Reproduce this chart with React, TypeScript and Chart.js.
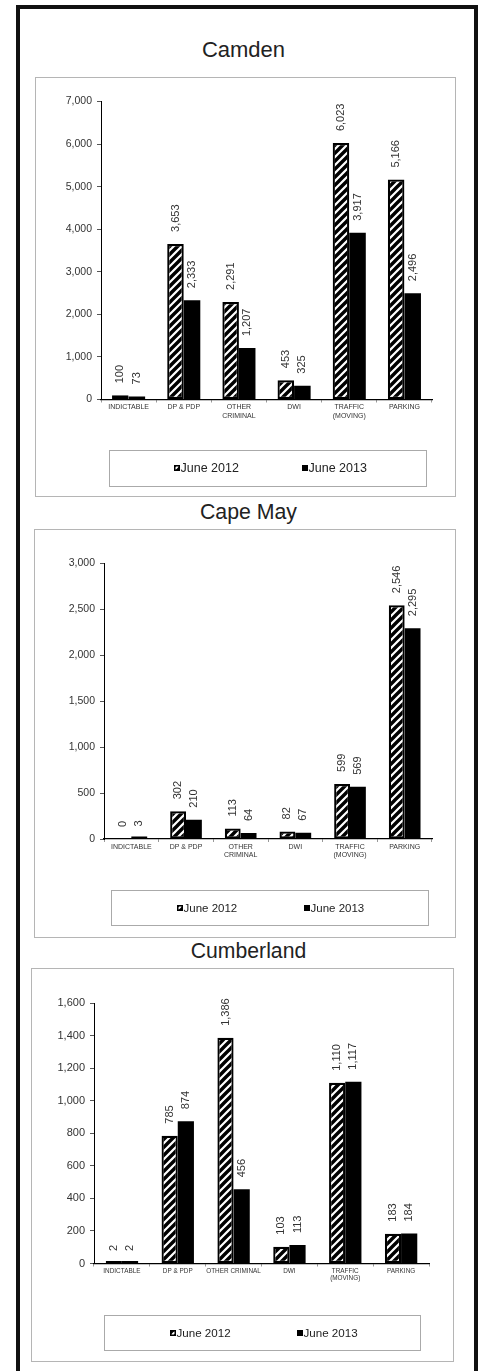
import React, { useEffect, useRef } from "react";
import { Chart, registerables } from "chart.js";

Chart.register(...registerables);

const FONT = "'Liberation Sans', Arial, Helvetica, sans-serif";
Chart.defaults.font.family = FONT;

// ---------- data ----------
const seriesNames = ["June 2012", "June 2013"];
const categoriesTwoLine = ["INDICTABLE", "DP & PDP", ["OTHER", "CRIMINAL"], "DWI", ["TRAFFIC", "(MOVING)"], "PARKING"];
const categoriesOneLine = ["INDICTABLE", "DP & PDP", "OTHER CRIMINAL", "DWI", ["TRAFFIC", "(MOVING)"], "PARKING"];

const camden2012 = [100, 3653, 2291, 453, 6023, 5166];
const camden2013 = [73, 2333, 1207, 325, 3917, 2496];
const capeMay2012 = [0, 302, 113, 82, 599, 2546];
const capeMay2013 = [3, 210, 64, 67, 569, 2295];
const cumberland2012 = [2, 785, 1386, 103, 1110, 183];
const cumberland2013 = [2, 874, 456, 113, 1117, 184];

const camdenAxis = [0, 7000, 1000]; // min, max, step
const capeMayAxis = [0, 3000, 500];
const cumberlandAxis = [0, 1600, 200];

// ---------- layout (page pixel coordinates) ----------
const panels = [
  {
    title: "Camden", titleSize: 22, titleCx: 243.5, titleCy: 49.5,
    box: { l: 35, t: 77, r: 455, b: 496 },
    axisX: 101, xRight: 432, yTopPx: 101.5, yZeroPx: 399.5,
    axis: camdenAxis, labels: categoriesTwoLine, a: camden2012, b: camden2013,
    catPct: 0.6, tickSize: 10.5, catSize: 7, valSize: 11,
    legend: { l: 109, t: 450, r: 426, b: 486, cy: 468, size: 12.5, items: [174, 302] },
  },
  {
    title: "Cape May", titleSize: 21.3, titleCx: 248.5, titleCy: 512.7,
    box: { l: 34, t: 529, r: 455, b: 937 },
    axisX: 104, xRight: 432, yTopPx: 563.5, yZeroPx: 839,
    axis: capeMayAxis, labels: categoriesTwoLine, a: capeMay2012, b: capeMay2013,
    catPct: 0.58, tickSize: 10.5, catSize: 7, valSize: 11,
    legend: { l: 111, t: 890, r: 428, b: 925, cy: 908, size: 11.5, items: [177, 304] },
  },
  {
    title: "Cumberland", titleSize: 21.2, titleCx: 248.5, titleCy: 950.5,
    box: { l: 31, t: 968, r: 453, b: 1361 },
    axisX: 94, xRight: 429, yTopPx: 1003, yZeroPx: 1263.5,
    axis: cumberlandAxis, labels: categoriesOneLine, a: cumberland2012, b: cumberland2013,
    catPct: 0.58, tickSize: 11, catSize: 6.4, valSize: 11,
    legend: { l: 104, t: 1315, r: 420, b: 1350, cy: 1333, size: 11.6, items: [170, 297] },
  },
];

// ---------- plugins ----------
const barValuesPlugin = {
  id: "barValues",
  afterDatasetsDraw(chart: any, _args: any, opts: any) {
    const ctx = chart.ctx;
    ctx.save();
    ctx.font = `${opts.size}px ${FONT}`;
    ctx.fillStyle = opts.color;
    ctx.textAlign = "left";
    ctx.textBaseline = "middle";
    chart.data.datasets.forEach((ds: any, di: number) => {
      const meta = chart.getDatasetMeta(di);
      meta.data.forEach((el: any, i: number) => {
        const v = Number(ds.data[i]);
        const { x, base } = el.getProps(["x", "base"], true);
        const y = chart.scales.y.getPixelForValue(v);
        ctx.save();
        ctx.translate(x, Math.min(y, base) - opts.gap);
        ctx.rotate(-Math.PI / 2);
        ctx.fillText(v.toLocaleString("en-US"), 0, 0);
        ctx.restore();
      });
    });
    ctx.restore();
  },
};

const boxLegendPlugin = {
  id: "boxLegend",
  afterDraw(chart: any, _args: any, opts: any) {
    const ctx = chart.ctx;
    ctx.save();
    ctx.strokeStyle = opts.borderColor;
    ctx.lineWidth = 1;
    ctx.strokeRect(Math.round(opts.x) + 0.5, Math.round(opts.y) + 0.5, Math.round(opts.w), Math.round(opts.h));
    ctx.font = `${opts.size}px ${FONT}`;
    ctx.textBaseline = "middle";
    ctx.textAlign = "left";
    const s = opts.marker;
    chart.data.datasets.forEach((ds: any, i: number) => {
      const mx = opts.items[i];
      const my = opts.cy - s / 2;
      ctx.fillStyle = ds.backgroundColor;
      ctx.fillRect(mx, my, s, s);
      if (ds.borderWidth) {
        ctx.strokeStyle = "#000";
        ctx.lineWidth = 1.5;
        ctx.strokeRect(mx + 0.75, my + 0.75, s - 1.5, s - 1.5);
      }
      ctx.fillStyle = opts.color;
      ctx.fillText(ds.label, mx + s + 0.5, opts.cy + 0.5);
    });
    ctx.restore();
  },
};

function makeHatch(): HTMLCanvasElement {
  const tile = document.createElement("canvas");
  tile.width = 8;
  tile.height = 8;
  const tc = tile.getContext("2d")!;
  tc.fillStyle = "#fff";
  tc.fillRect(0, 0, 8, 8);
  tc.strokeStyle = "#000";
  tc.lineWidth = 3.4;
  tc.beginPath();
  tc.moveTo(-2, 10); tc.lineTo(10, -2);
  tc.moveTo(-2, 2); tc.lineTo(2, -2);
  tc.moveTo(6, 10); tc.lineTo(10, 6);
  tc.stroke();
  return tile;
}

function Panel({ p }: { p: any }) {
  const ref = useRef<HTMLCanvasElement>(null);
  const w = p.box.r - p.box.l + 1;
  const h = p.box.b - p.box.t + 1;
  useEffect(() => {
    const canvas = ref.current!;
    const pattern = canvas.getContext("2d")!.createPattern(makeHatch(), "repeat");
    const XH = 30;
    const padTop = p.yTopPx - p.box.t;
    const padRight = w - (p.xRight - p.box.l);
    const padBottom = h - (p.yZeroPx - p.box.t) - XH;
    const chart = new Chart(canvas, {
      type: "bar",
      data: {
        labels: p.labels,
        datasets: [
          {
            label: seriesNames[0], data: p.a, backgroundColor: pattern as any,
            borderColor: "#000", borderWidth: 2.2, borderSkipped: false,
            categoryPercentage: p.catPct, barPercentage: 1,
            minBarLength: p.a.includes(0) ? 0 : 2.5,
          },
          {
            label: seriesNames[1], data: p.b, backgroundColor: "#000",
            borderWidth: 0, categoryPercentage: p.catPct, barPercentage: 1,
            minBarLength: p.b.includes(0) ? 0 : 2.5,
          },
        ],
      },
      options: {
        animation: false,
        responsive: false,
        maintainAspectRatio: false,
        devicePixelRatio: 1,
        events: [],
        layout: { padding: { left: 0, top: padTop, right: padRight, bottom: padBottom } },
        scales: {
          x: {
            grid: { drawOnChartArea: false, drawTicks: true, tickLength: 3, color: "#999", offset: true },
            border: { display: true, color: "#000", width: 1.2 },
            ticks: {
              font: { size: p.catSize, lineHeight: 1.15 }, color: "#333", padding: 1,
              maxRotation: 0, minRotation: 0, autoSkip: false,
            },
            afterFit: (s: any) => { s.height = XH; },
          },
          y: {
            min: p.axis[0], max: p.axis[1],
            ticks: {
              stepSize: p.axis[2],
              callback: (v: any) => Number(v).toLocaleString("en-US"),
              font: { size: p.tickSize }, color: "#333", padding: 5,
            },
            grid: { drawOnChartArea: false, drawTicks: true, tickLength: 4, color: "#555" },
            border: { display: true, color: "#000", width: 1 },
            afterFit: (s: any) => { s.width = p.axisX - p.box.l; },
          },
        },
        plugins: {
          legend: { display: false },
          tooltip: { enabled: false },
          title: { display: false },
          barValues: { size: p.valSize, color: "#333", gap: 12 },
          boxLegend: {
            x: p.legend.l - p.box.l, y: p.legend.t - p.box.t,
            w: p.legend.r - p.legend.l, h: p.legend.b - p.legend.t,
            cy: p.legend.cy - p.box.t, size: p.legend.size, color: "#222",
            borderColor: "#aaa", marker: 6,
            items: p.legend.items.map((x: number) => x - p.box.l),
          },
        } as any,
      },
      plugins: [barValuesPlugin, boxLegendPlugin],
    });
    return () => chart.destroy();
  }, []);

  return (
    <>
      <div
        style={{
          position: "absolute", left: p.titleCx - 150, width: 300,
          top: p.titleCy - p.titleSize / 2, height: p.titleSize,
          fontSize: p.titleSize, lineHeight: `${p.titleSize}px`, fontFamily: FONT,
          textAlign: "center", color: "#222", whiteSpace: "nowrap",
        }}
      >
        {p.title}
      </div>
      <div
        style={{
          position: "absolute", left: p.box.l, top: p.box.t, width: w, height: h,
          border: "1px solid #b5b5b5", boxSizing: "border-box",
        }}
      />
      <canvas
        ref={ref}
        width={w}
        height={h}
        style={{ position: "absolute", left: p.box.l, top: p.box.t, width: w, height: h }}
      />
    </>
  );
}

export default function App() {
  return (
    <div style={{ position: "absolute", left: 0, top: 0, width: 478, height: 1371, background: "#fff", overflow: "hidden" }}>
      <div
        style={{
          position: "absolute", left: 16, top: 5, width: 462, height: 1400,
          border: "4px solid #111", boxSizing: "border-box",
        }}
      />
      {panels.map((p) => (
        <Panel key={p.title} p={p} />
      ))}
    </div>
  );
}
